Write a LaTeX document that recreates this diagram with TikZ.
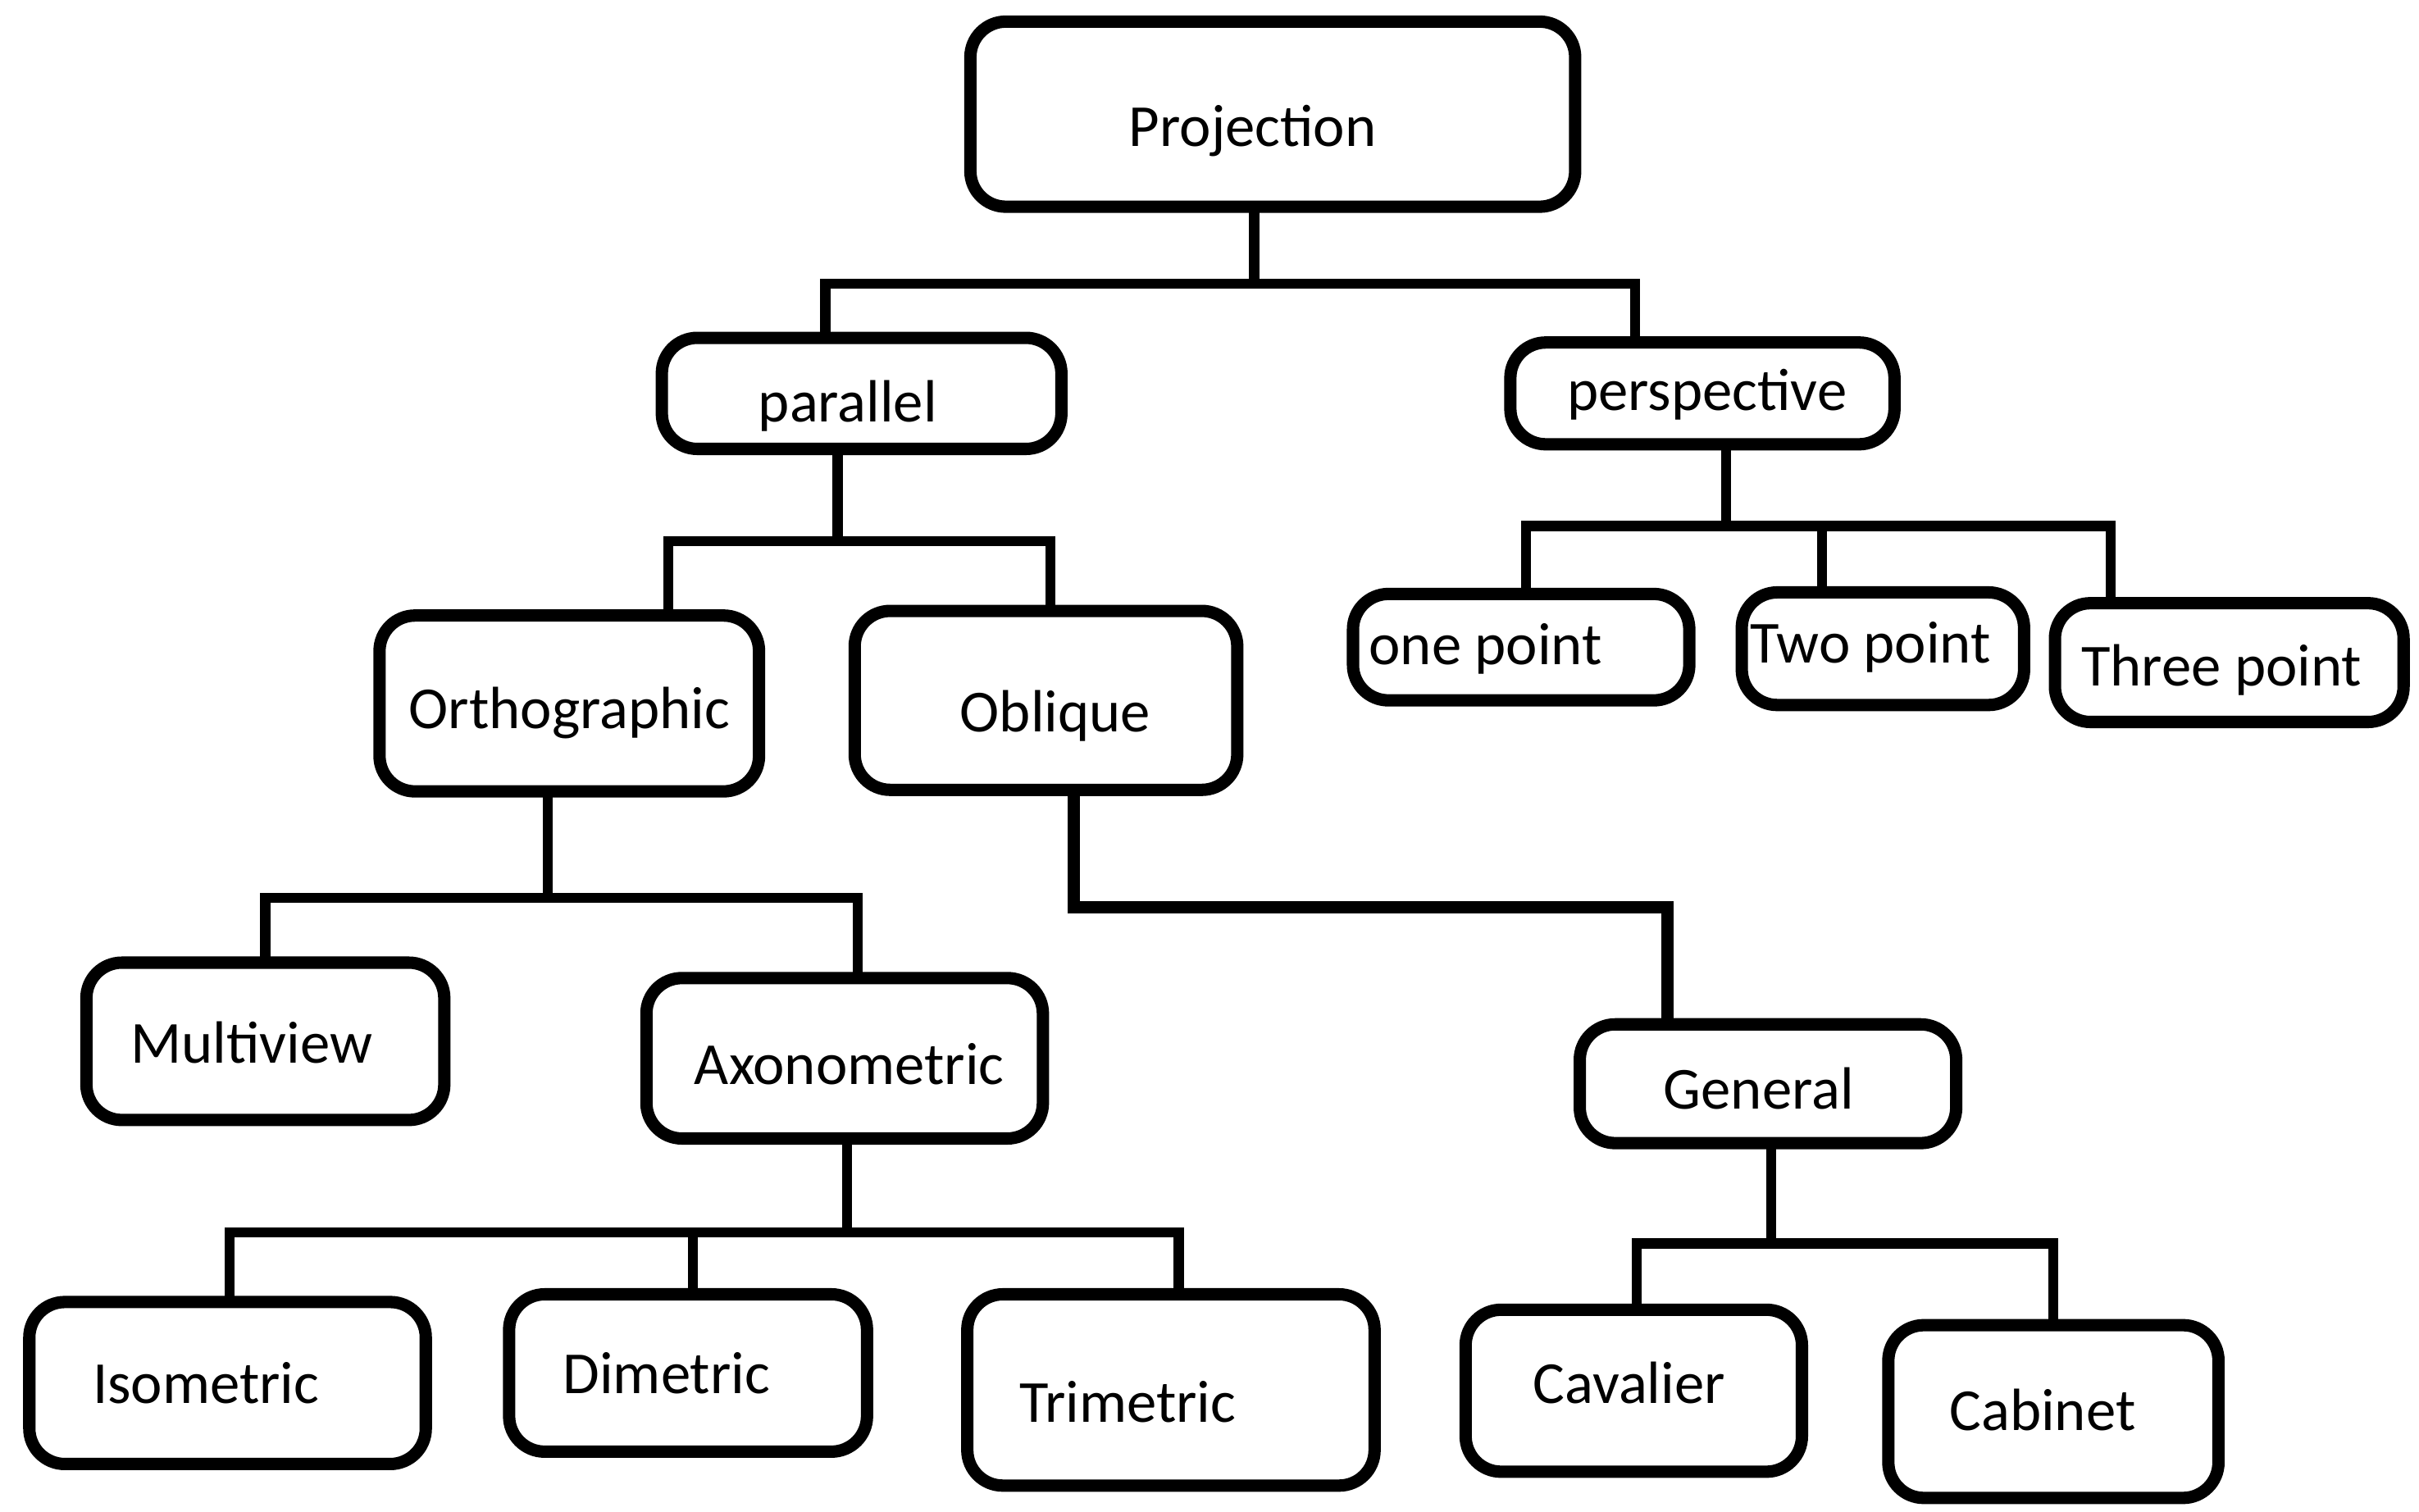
\documentclass[tikz,border=0pt]{standalone}
\usepackage{fontspec}
\setmainfont{Carlito}
\usetikzlibrary{calc}

\tikzset{
	blok/.style={draw, line width=0.8mm, rounded corners=2.3mm, inner sep=0pt},
	wire/.style={line width=0.65mm, line cap=rect, line join=miter},
	every label/.style={font=\fontsize{11}{13}\selectfont}
}

\begin{document}
\begin{tikzpicture}
				\useasboundingbox (0,0) rectangle (15.68,9.8);
				
				% top level
				\node[blok, minimum width=3.92cm, minimum height=1.20cm, label={[xshift=-1.3mm, yshift=-1.1mm]center:Projection}] (proj) at (8.25,9.06) {};
				
				\node[blok, minimum width=2.59cm, minimum height=0.72cm, label={[xshift=-0.9mm, yshift=-0.8mm]center:parallel}] (par) at (5.585,7.25) {};
				\node[blok, minimum width=2.49cm, minimum height=0.66cm, label={[xshift=0.3mm, yshift=-0.1mm]center:perspective}] (persp) at (11.035,7.25) {};
				
				\node[blok, minimum width=2.46cm, minimum height=1.14cm, label={[yshift=-0.6mm]center:Orthographic}] (ortho) at (3.69,5.24) {};
				\node[blok, minimum width=2.48cm, minimum height=1.16cm, label={[xshift=0.6mm, yshift=-1.0mm]center:Oblique}] (obl) at (6.78,5.26) {};
				
				\node[blok, minimum width=2.18cm, minimum height=0.69cm, label={[xshift=-2.3mm, yshift=-0.1mm]center:one point}] (one) at (9.86,5.605) {};
				\node[blok, minimum width=1.83cm, minimum height=0.73cm, label={[xshift=-0.8mm, yshift=0.1mm]center:Two point}] (two) at (12.205,5.595) {};
				\node[blok, minimum width=2.26cm, minimum height=0.77cm, label={[xshift=-0.5mm, yshift=-0.5mm]center:Three point}] (three) at (14.45,5.505) {};
				
				\node[blok, minimum width=2.32cm, minimum height=1.02cm, label={[xshift=-0.9mm, yshift=-0.1mm]center:Multiview}] (multi) at (1.72,3.05) {};
				\node[blok, minimum width=2.57cm, minimum height=1.04cm, label={[xshift=0.3mm, yshift=-0.4mm]center:Axonometric}] (axo) at (5.475,2.94) {};
				\node[blok, minimum width=2.44cm, minimum height=0.77cm, label={[xshift=-0.6mm, yshift=-0.3mm]center:General}] (gen) at (11.46,2.775) {};
				
				\node[blok, minimum width=2.57cm, minimum height=1.05cm, label={[xshift=-1.4mm]center:Isometric}] (iso) at (1.475,0.835) {};
				\node[blok, minimum width=2.32cm, minimum height=1.02cm, label={[xshift=-1.4mm]center:Dimetric}] (di) at (4.46,0.90) {};
				\node[blok, minimum width=2.64cm, minimum height=1.24cm, label={[xshift=-2.8mm, yshift=-0.8mm]center:Trimetric}] (tri) at (7.59,0.79) {};
				\node[blok, minimum width=2.18cm, minimum height=1.05cm, label={[xshift=-0.3mm, yshift=0.5mm]center:Cavalier}] (cav) at (10.59,0.785) {};
				\node[blok, minimum width=2.14cm, minimum height=1.12cm, label={[xshift=-0.7mm, yshift=0.1mm]center:Cabinet}] (cab) at (13.31,0.65) {};
				
				% stems down to the bars
				\draw[wire] ([xshift=-1.2mm]proj.south) -- ++(0,-0.46) coordinate (pj);
				\draw[wire] ([xshift=-1.55mm]par.south) -- ++(0,-0.56) coordinate (pa);
				\draw[wire] ([xshift=1.55mm]persp.south) -- ++(0,-0.49) coordinate (ps);
				\draw[wire] ([xshift=-1.4mm]ortho.south) -- ++(0,-0.65) coordinate (or);
				\draw[wire, line width=0.8mm] ([xshift=1.8mm]obl.south) -- ++(0,-0.72) coordinate (ob);
				\draw[wire] ([xshift=0.15mm]axo.south) -- ++(0,-0.57) coordinate (ax);
				\draw[wire] ([xshift=0.2mm]gen.south) -- ++(0,-0.61) coordinate (ge);
				
				% bars and drops
				\draw[wire] ([xshift=-2.35mm]par.north) |- (pj);
				\draw[wire] ([xshift=-4.35mm]persp.north) |- (pj);
				
				\draw[wire] ([xshift=6.4mm]ortho.north) |- (pa);
				\draw[wire] ([xshift=0.3mm]obl.north) |- (pa);
				
				\draw[wire] ([xshift=0.3mm]one.north) |- (ps);
				\draw[wire] ([xshift=-3.95mm]two.north) |- (ps);
				\draw[wire] ([xshift=-7.7mm]three.north) |- (ps);
				
				\draw[wire] (multi.north) |- (or);
				\draw[wire] ([xshift=0.85mm]axo.north) |- (or);
				
				\draw[wire, line width=0.8mm] ([xshift=-6.5mm]gen.north) |- (ob);
				
				\draw[wire] ([xshift=0.15mm]iso.north) |- (ax);
				\draw[wire] ([xshift=0.3mm]di.north) |- (ax);
				\draw[wire] ([xshift=0.5mm]tri.north) |- (ax);
				
				\draw[wire] ([xshift=0.2mm]cav.north) |- (ge);
				\draw[wire] (cab.north) |- (ge);
			\end{tikzpicture}
\end{document}
